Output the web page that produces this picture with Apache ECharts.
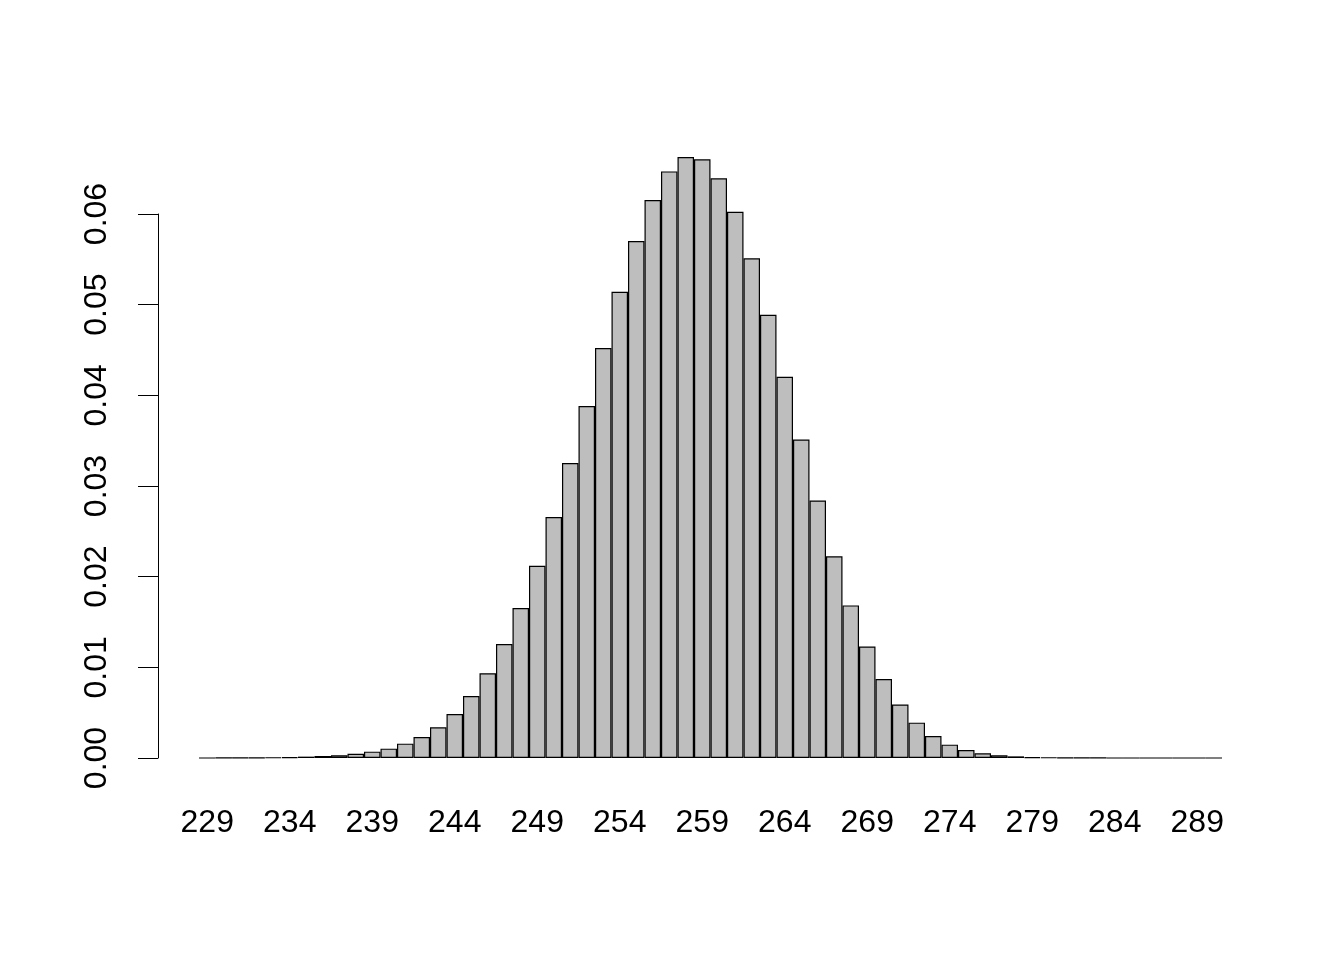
<!DOCTYPE html>
<html>
<head>
<meta charset="utf-8">
<script src="https://cdn.jsdelivr.net/npm/echarts@6/dist/echarts.min.js"></script>
<style>
html,body{margin:0;padding:0;background:#fff;}
#chart{width:1344px;height:960px;}
</style>
</head>
<body>
<div id="chart"></div>
<script>
// Bin centers (width 1)
const categories = [229,230,231,232,233,234,235,236,237,238,239,240,241,242,243,244,245,246,247,248,249,250,251,252,253,254,255,256,257,258,259,260,261,262,263,264,265,266,267,268,269,270,271,272,273,274,275,276,277,278,279,280,281,282,283,284,285,286,287,288,289,290];
const densities = [0.000005,0.00001,0.00002,0.00003,0.00006,0.0001,0.00015,0.00022,0.0003,0.00047,0.0007,0.00103,0.00158,0.00232,0.00338,0.00486,0.00684,0.00935,0.01257,0.01654,0.0212,0.02658,0.03254,0.03882,0.04522,0.05142,0.05702,0.06154,0.0647,0.06629,0.06603,0.06393,0.06025,0.05511,0.04888,0.04204,0.03512,0.0284,0.02224,0.01683,0.0123,0.00871,0.0059,0.0039,0.00243,0.00147,0.00088,0.00052,0.0003,0.00018,0.0001,0.00006,0.00003,0.00002,0.00001,0.000005,0.000003,0.000002,0.000001,0.000001,0,0];
const xTickLabels = ['229','234','239','244','249','254','259','264','269','274','279','284','289'];
const yTicks = {min:0, max:0.06, interval:0.01};

const chart = echarts.init(document.getElementById('chart'), null, {renderer:'canvas'});
const FONT = '"Liberation Sans", Arial, Helvetica, sans-serif';
chart.setOption({
  animation:false,
  backgroundColor:'#ffffff',
  grid:{left:199, right:122, top:214, bottom:202, containLabel:false},
  xAxis:{
    type:'category',
    data:categories.map(String),
    boundaryGap:true,
    axisLine:{show:false},
    axisTick:{show:false},
    splitLine:{show:false},
    axisLabel:{
      interval:0,
      formatter:function(v){ return xTickLabels.indexOf(v) >= 0 ? v : ''; },
      color:'#000', fontSize:32, fontFamily:FONT, margin:49
    }
  },
  yAxis:{
    type:'value',
    min:yTicks.min, max:yTicks.max, interval:yTicks.interval,
    offset:41,
    axisLine:{show:true, lineStyle:{color:'#000', width:1}},
    axisTick:{show:true, length:20, lineStyle:{color:'#000', width:1}},
    splitLine:{show:false},
    axisLabel:{
      rotate:90, color:'#000', fontSize:32, fontFamily:FONT, margin:45,
      formatter:function(v){ return v.toFixed(2); }
    }
  },
  series:[{
    type:'bar',
    data:densities,
    barCategoryGap:0,
    barGap:0,
    clip:false,
    itemStyle:{color:'#bebebe', borderColor:'#000', borderWidth:1.2}
  }]
});
</script>
</body>
</html>
